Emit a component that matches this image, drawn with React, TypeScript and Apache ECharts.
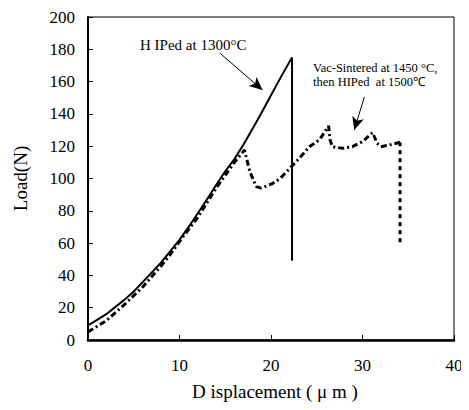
import React, { useEffect, useRef } from "react";
import * as echarts from "echarts";

// HIPed at 1300°C (solid)
const hipX = [0, 1, 2, 3, 4, 5, 6, 7, 8, 9, 10, 11, 12, 13, 14, 15, 16, 17, 18, 19, 20, 21, 22.3, 22.3];
const hipY = [9, 12.5, 16, 20.5, 25, 30, 36, 42, 48, 55, 62, 70, 78.5, 87, 96, 104.5, 112, 121, 131, 141, 151.5, 162, 175, 49];

// Vac-Sintered at 1450°C, then HIPed at 1500°C (dotted)
const vacX = [0, 1, 2, 3, 4, 5, 6, 7, 8, 9, 10, 11, 12, 13, 14, 15, 16, 17.1, 17.7, 18.4, 18.9, 19.8, 20.2, 21, 22, 23.1, 24.2, 25.3, 26.3, 26.45, 26.7, 27.8, 28.9, 30.0, 31.1, 31.6, 32.0, 32.9, 34.1];
const vacY = [5, 8.5, 12, 17, 22, 27.5, 33, 39.5, 46, 53, 61, 68.5, 76, 85, 94, 102, 110, 117.6, 104, 95, 94, 96, 97, 100, 106, 112.5, 119.7, 124, 132.5, 124, 119.7, 118.7, 119.7, 122.8, 128.5, 121.8, 119.7, 120.7, 122.4];
const vacDropX = [34.1, 34.1];
const vacDropY = [122.4, 58.8];

const xTicks = { min: 0, max: 40, interval: 10 };
const yTicks = { min: 0, max: 200, interval: 20 };

// annotation arrows (data coords): [fromX, fromY, toX, toY]
const arrowHip = [14.4, 177.7, 19.07, 154.8];
const arrowVac = [30.2, 150.5, 29.1, 130];

const labelHip = "H IPed at 1300°C";
const labelVac = "Vac-Sintered at 1450 °C,\nthen HIPed  at 1500℃";
const xName = "D isplacement ( μ m )";
const yName = "Load(N)";

const FONT = "'Liberation Serif', 'Times New Roman', serif";

export default function App() {
  const ref = useRef<HTMLDivElement>(null);
  useEffect(() => {
    if (!ref.current) return;
    const chart = echarts.init(ref.current, undefined, { renderer: "svg" });
    const zip = (xs: number[], ys: number[]) => xs.map((x, i) => [x, ys[i]]);
    const arrow = (a: number[]) => [{ coord: [a[0], a[1]] }, { coord: [a[2], a[3]] }];
    chart.setOption({
      animation: false,
      backgroundColor: "#fff",
      grid: {
        left: 88,
        top: 17,
        right: 15,
        bottom: 70,
        show: true,
        borderColor: "#000",
        borderWidth: 1,
      },
      xAxis: {
        type: "value",
        ...xTicks,
        name: xName,
        nameLocation: "middle",
        nameGap: 42,
        nameTextStyle: { fontFamily: FONT, fontSize: 19, color: "#000", padding: [0, 0, 0, 8] },
        axisLine: { show: true, lineStyle: { color: "#000", width: 2.5 } },
        axisTick: { show: true, inside: true, length: 5, lineStyle: { color: "#000", width: 1 } },
        axisLabel: { fontFamily: FONT, fontSize: 17, color: "#000", margin: 17 },
        splitLine: { show: false },
      },
      yAxis: {
        type: "value",
        ...yTicks,
        name: yName,
        nameLocation: "middle",
        nameGap: 58,
        nameTextStyle: { fontFamily: FONT, fontSize: 19, color: "#000" },
        axisLine: { show: true, lineStyle: { color: "#000", width: 2 } },
        axisTick: { show: true, inside: true, length: 5, lineStyle: { color: "#000", width: 1 } },
        axisLabel: { fontFamily: FONT, fontSize: 17, color: "#000", margin: 13 },
        splitLine: { show: false },
      },
      series: [
        {
          type: "line",
          data: zip(hipX, hipY),
          showSymbol: false,
          lineStyle: { color: "#000", width: 2 },
          markLine: {
            silent: true,
            symbol: ["none", "arrow"],
            symbolSize: [9, 13],
            label: { show: false },
            lineStyle: { color: "#000", width: 1, type: "solid" },
            data: [arrow(arrowHip), arrow(arrowVac)],
          },
        },
        {
          type: "line",
          data: zip(vacX, vacY),
          showSymbol: false,
          lineStyle: { color: "#000", width: 3, type: [6, 3, 2, 3] },
        },
        {
          type: "line",
          data: zip(vacDropX, vacDropY),
          showSymbol: false,
          lineStyle: { color: "#000", width: 3, type: [4, 4] },
        },
      ],
      graphic: [
        {
          type: "text",
          left: 140,
          top: 37,
          style: { text: labelHip, font: `15px ${FONT}`, fill: "#000" },
        },
        {
          type: "text",
          left: 313,
          top: 61,
          style: { text: labelVac, font: `12.5px ${FONT}`, fill: "#000", lineHeight: 14 },
        },
      ],
    });
    return () => chart.dispose();
  }, []);
  return <div ref={ref} style={{ width: 469, height: 410, margin: -8 }} />;
}
